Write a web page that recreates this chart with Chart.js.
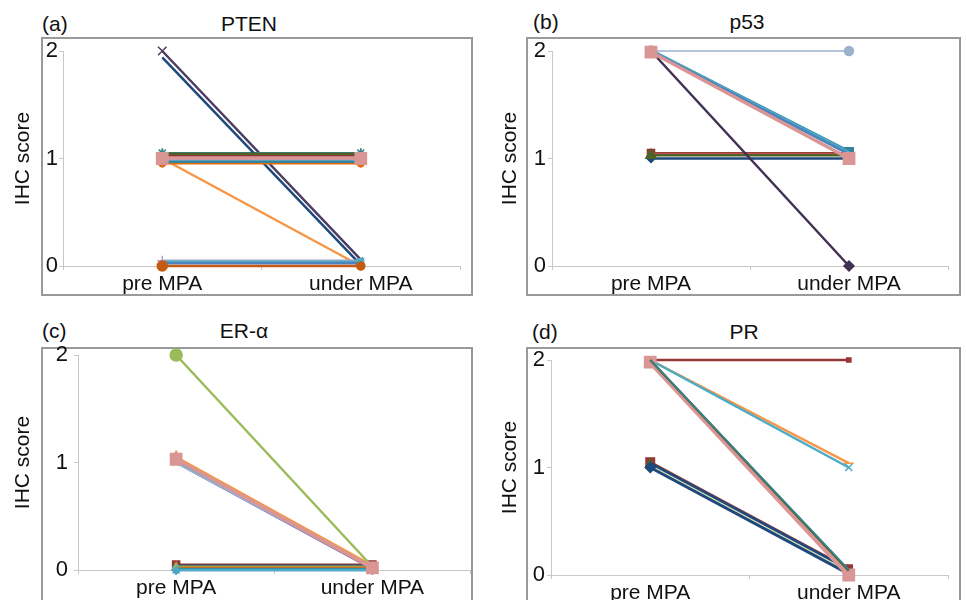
<!DOCTYPE html>
<html>
<head>
<meta charset="utf-8">
<script src="https://cdn.jsdelivr.net/npm/chart.js@4"></script>
<style>
  body { margin: 0; background: #fff; width: 966px; height: 600px; overflow: hidden; position: relative;
         font-family: Arial, "Liberation Sans", sans-serif; }
  .frame { position: absolute; border: 2px solid #9a9a9a; box-sizing: border-box; }
  .lbl { position: absolute; font-size: 21px; line-height: 21px; color: #111; white-space: nowrap; }
  .ttl { position: absolute; font-size: 21px; line-height: 21px; color: #111; white-space: nowrap; transform: translateX(-50%); }
  canvas { position: absolute; }
</style>
</head>
<body>
<div class="frame" style="left:41px;top:37px;width:432px;height:259px"></div>
<div class="frame" style="left:526px;top:37px;width:435px;height:259px"></div>
<div class="frame" style="left:41px;top:347px;width:432px;height:270px"></div>
<div class="frame" style="left:526px;top:347px;width:435px;height:270px"></div>

<div class="lbl" style="left:42px;top:13px">(a)</div>
<div class="ttl" style="left:249px;top:13px">PTEN</div>
<div class="lbl" style="left:533px;top:11px">(b)</div>
<div class="ttl" style="left:747px;top:11px">p53</div>
<div class="lbl" style="left:42px;top:320px">(c)</div>
<div class="ttl" style="left:244px;top:320px">ER-α</div>
<div class="lbl" style="left:532px;top:321px">(d)</div>
<div class="ttl" style="left:744px;top:321px">PR</div>

<canvas id="chartA" width="480" height="300" style="left:0;top:0"></canvas>
<canvas id="chartB" width="486" height="300" style="left:480px;top:0"></canvas>
<canvas id="chartC" width="480" height="300" style="left:0;top:300px"></canvas>
<canvas id="chartD" width="486" height="300" style="left:480px;top:300px"></canvas>

<script>
const categories = ['pre MPA', 'under MPA'];
const yTitle = 'IHC score';

// IHC scores per patient (small offsets keep overlapping lines apart)
const ptenPre   = [0.96, 1.03, 1.05, 2.00, 1.05, 1.00, 1.94, 0.955, 1.04, 1.045, 1.02, 1.01, 0.99, 0.98, 0.97, 0.05, 0.04, 0.025, 0.00, 1.00];
const ptenUnder = [0.96, 1.03, 1.05, 0.06, 1.05, 0.00, 0.01, 0.955, 1.04, 1.045, 1.02, 1.01, 0.99, 0.98, 0.97, 0.05, 0.04, 0.025, 0.00, 1.00];

const p53Pre   = [1.00, 1.05, 1.045, 1.03, 2.00, 2.00, 2.00, 2.00, 2.00, 1.99];
const p53Under = [1.00, 1.05, 1.045, 1.03, 2.00, 0.00, 1.06, 1.05, 1.04, 1.00];

const erPre   = [0.00, 0.05, 0.04, 0.03, 0.02, 0.01, 0.00, 1.00, 1.00, 1.02, 1.05, 2.00, 1.03];
const erUnder = [0.00, 0.05, 0.04, 0.03, 0.02, 0.01, 0.00, 0.01, 0.02, 0.03, 0.04, 0.03, 0.02];

const prPre   = [1.05, 1.03, 1.04, 1.02, 1.00, 2.00, 2.00, 2.00, 1.98, 2.00, 2.00];
const prUnder = [0.06, 0.05, 0.05, 0.03, 0.01, 2.00, 1.04, 1.00, 0.00, 0.04, 0.05];

// styles: [colour, marker, marker radius (pre, under), line width]
const ptenStyle = [
  ['#4F81BD', 'rectRot', [4, 4], 2.5], ['#C0504D', 'rect', [4, 4], 2.5], ['#9BBB59', 'triangle', [4, 4], 2.5],
  ['#4D3B62', 'crossRot', [6, 3], 2.5], ['#31859C', 'star', [5, 5], 2.5], ['#F79646', 'circle', [4, 4], 2.5],
  ['#1F497D', 'cross', [0, 3], 2.5], ['#E46C0A', 'circle', [3.5, 3.5], 2.5], ['#772C2A', 'rect', [0, 0], 2.5],
  ['#4F6228', 'rect', [0, 0], 2.5], ['#953735', 'rect', [0, 0], 2.5], ['#D99694', 'rect', [0, 0], 2.5],
  ['#B3A2C7', 'rect', [0, 0], 2.5], ['#95B3D7', 'rect', [0, 0], 2.5], ['#31859C', 'rect', [0, 0], 2.5],
  ['#B3A2C7', 'cross', [5, 0], 2.5], ['#4BACC6', 'rect', [0, 4], 2.5], ['#4F81BD', 'rect', [0, 0], 2.5],
  ['#C55A11', 'circle', [5, 4], 2.5], ['#D99694', 'rect', [8, 8], 2.5]
];
const p53Style = [
  ['#1F497D', 'rectRot', [4, 4], 2.5], ['#953735', 'rect', [5, 5], 2.5], ['#C0504D', 'rect', [0, 0], 2],
  ['#4F6228', 'triangle', [6, 0], 2.5], ['#9DB0CE', 'circle', [5, 4.5], 1.5], ['#403152', 'rectRot', [4, 5], 2.5],
  ['#31859C', 'rect', [6, 6], 4], ['#4BACC6', 'rect', [0, 0], 4], ['#4F81BD', 'rect', [0, 0], 2.5],
  ['#D99694', 'rect', [8, 8], 3.5]
];
const erStyle = [
  ['#4F81BD', 'rectRot', [4, 4], 2.5], ['#953735', 'rect', [5, 5], 2.5], ['#1F497D', 'rect', [0, 0], 2.5],
  ['#9BBB59', 'triangle', [4, 4], 2.5], ['#E46C0A', 'rect', [0, 0], 2.5], ['#31859C', 'rect', [0, 0], 2.5],
  ['#4BACC6', 'star', [5, 5], 2.5], ['#8064A2', 'crossRot', [4, 0], 2.5], ['#95B3D7', 'rect', [0, 0], 2.5],
  ['#4BACC6', 'rect', [0, 0], 2.5], ['#F79646', 'triangle', [6, 0], 2.5], ['#9BBB59', 'circle', [6, 0], 2.5],
  ['#D99694', 'rect', [8, 8], 3.5]
];
const prStyle = [
  ['#953735', 'rect', [6, 5], 2.5], ['#4F6228', 'triangle', [5, 0], 2.5], ['#1F497D', 'rect', [0, 0], 3],
  ['#E2E8B8', 'rect', [0, 0], 1.5], ['#1F497D', 'rectRot', [5, 0], 3], ['#953735', 'rect', [0, 3], 2.5],
  ['#F79646', 'line', [0, 5], 2.5], ['#4BACC6', 'crossRot', [0, 5], 2.5], ['#D99694', 'rect', [8, 8], 5],
  ['#4F6228', 'rect', [0, 0], 2.5], ['#31859C', 'rect', [0, 0], 1.5]
];

const FONT = 'Arial, "Liberation Sans", sans-serif';
const AXIS = '#c8c8c8';

function drawPanel(id, pre, under, style, box) {
  const datasets = pre.map((p, i) => {
    const [color, marker, radius, width] = style[i];
    return {
      data: [p, under[i]],
      borderColor: color,
      backgroundColor: color,
      borderWidth: width,
      pointStyle: marker,
      pointRadius: radius,
      pointBackgroundColor: color,
      pointBorderColor: color,
      pointBorderWidth: 1.5,
      tension: 0,
      clip: false
    };
  }).reverse(); // Chart.js paints the first dataset on top

  new Chart(document.getElementById(id), {
    type: 'line',
    data: { labels: categories, datasets: datasets },
    options: {
      responsive: false,
      animation: false,
      layout: { padding: { left: 0, top: box.padTop, right: box.padRight, bottom: 0 } },
      plugins: { legend: { display: false }, tooltip: { enabled: false } },
      scales: {
        x: {
          offset: true,
          grid: { offset: true, drawOnChartArea: false, tickLength: 4, color: AXIS },
          border: { color: AXIS },
          ticks: { color: '#111', font: { size: 21, family: FONT }, padding: 2, maxRotation: 0 },
          afterFit: s => { s.height = box.xHeight; }
        },
        y: {
          min: 0, max: 2,
          grid: { drawOnChartArea: false, tickLength: 4, color: AXIS },
          border: { color: AXIS },
          ticks: { stepSize: 1, color: '#111', font: { size: 22, family: FONT }, padding: box.tickPad },
          title: { display: true, text: yTitle, color: '#111', font: { size: 21, family: FONT },
                   padding: { top: box.titlePad, bottom: 0 } },
          afterFit: s => { s.width = box.yWidth; }
        }
      }
    }
  });
}

drawPanel('chartA', ptenPre, ptenUnder, ptenStyle, { padTop: 51, padRight: 20, yWidth: 63, xHeight: 34, titlePad: 11, tickPad: 1 });
drawPanel('chartB', p53Pre, p53Under, p53Style, { padTop: 51, padRight: 18, yWidth: 72, xHeight: 34, titlePad: 18, tickPad: 2 });
drawPanel('chartC', erPre, erUnder, erStyle, { padTop: 55, padRight: 7, yWidth: 78, xHeight: 30, titlePad: 11, tickPad: 6 });
drawPanel('chartD', prPre, prUnder, prStyle, { padTop: 60, padRight: 18, yWidth: 71, xHeight: 25, titlePad: 18, tickPad: 2 });
</script>
</body>
</html>
